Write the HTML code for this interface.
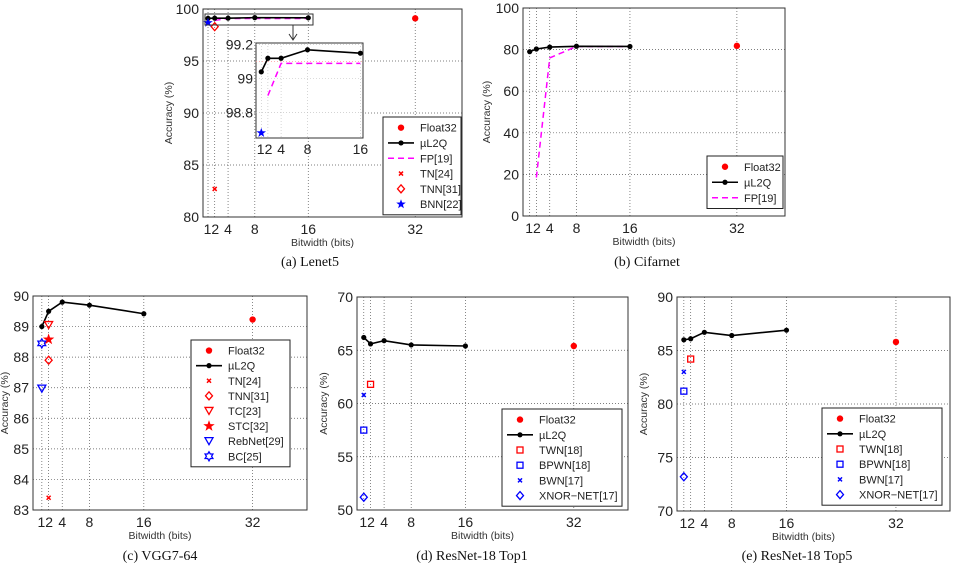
<!DOCTYPE html>
<html><head><meta charset="utf-8"><style>
html,body{margin:0;padding:0;background:#fff;}
svg{display:block;font-family:"Liberation Sans",sans-serif;}
.cap{font-family:"Liberation Serif",serif;font-size:14px;}
</style></head><body>
<svg id="fig" width="960" height="570" viewBox="0 0 960 570"></svg>
<script>
// ---- data ----
const bitsMain = [1, 2, 4, 8, 16];
const bitsTicks = [1, 2, 4, 8, 16, 32];
const tickLabels = ["1", "2", "4", "8", "16", "32"];
// (a) Lenet5
const aL2Q = [99.1, 99.12, 99.12, 99.17, 99.15];
const aFPbits = [2, 4, 8, 16];
const aFP = [98.9, 99.09, 99.09, 99.09];
const aFloat = 99.1;
const aTN = 82.7, aTNN = 98.3, aBNN = 98.68;
const aInsetL2Q = [99.04, 99.12, 99.12, 99.17, 99.15];
const aInsetFP = [98.9, 99.09, 99.09, 99.09];
const aYTicks = [80, 85, 90, 95, 100];
const aInsetYTicks = [98.8, 99, 99.2];
const aInsetYLabels = ["98.8", "99", "99.2"];
// (b) Cifarnet
const bL2Q = [79, 80.3, 81.2, 81.6, 81.5];
const bFPbits = [2, 4, 8, 16];
const bFP = [18.5, 76, 81.5, 81.5];
const bFloat = 81.8;
const bYTicks = [0, 20, 40, 60, 80, 100];
// (c) VGG7-64
const cL2Q = [89.0, 89.5, 89.8, 89.7, 89.42];
const cFloat = 89.23;
const cTN = 83.4, cTNN = 87.9, cTC = 89.05, cSTC = 88.58, cReb = 86.97, cBC = 88.45;
const cYTicks = [83, 84, 85, 86, 87, 88, 89, 90];
// (d) ResNet-18 Top1
const dL2Q = [66.2, 65.6, 65.9, 65.5, 65.4];
const dFloat = 65.4;
const dTWN = 61.8, dBPWN = 57.5, dBWN = 60.8, dXNOR = 51.2;
const dYTicks = [50, 55, 60, 65, 70];
// (e) ResNet-18 Top5
const eL2Q = [86.0, 86.1, 86.7, 86.4, 86.9];
const eFloat = 85.8;
const eTWN = 84.2, eBPWN = 81.2, eBWN = 83.0, eXNOR = 73.2;
const eYTicks = [70, 75, 80, 85, 90];

const NS = "http://www.w3.org/2000/svg";
const svg = document.getElementById('fig');
function el(tag, attrs, parent, txt) {
  const e = document.createElementNS(NS, tag);
  for (const k in attrs) e.setAttribute(k, attrs[k]);
  if (txt !== undefined) e.textContent = txt;
  (parent || svg).appendChild(e);
  return e;
}
const RED = "#ff0000", BLUE = "#0000ff", MAG = "#ff00ff";

function starPts(cx, cy, r1, r2, n) {
  let p = [];
  for (let i = 0; i < 2 * n; i++) {
    const a = -Math.PI / 2 + i * Math.PI / n;
    const r = i % 2 ? r2 : r1;
    p.push((cx + r * Math.cos(a)).toFixed(1) + "," + (cy + r * Math.sin(a)).toFixed(1));
  }
  return p.join(" ");
}
function marker(g, type, x, y, name) {
  let m;
  switch (type) {
    case "dot": m = el("circle", {cx: x, cy: y, r: 3.2, fill: RED}, g); break;
    case "bdot": m = el("circle", {cx: x, cy: y, r: 2.6, fill: "#000"}, g); break;
    case "xr": case "xb": {
      const c = type == "xr" ? RED : BLUE;
      m = el("path", {d: `M${x-2},${y-2}L${x+2},${y+2}M${x-2},${y+2}L${x+2},${y-2}`, stroke: c, "stroke-width": 1.5}, g); break; }
    case "diar": case "diab": {
      const c = type == "diar" ? RED : BLUE;
      m = el("path", {d: `M${x},${y-4}L${x+3.5},${y}L${x},${y+4}L${x-3.5},${y}Z`, stroke: c, fill: "none", "stroke-width": 1.3}, g); break; }
    case "starb": m = el("polygon", {points: starPts(x, y, 5, 2, 5), fill: BLUE}, g); break;
    case "starr": m = el("polygon", {points: starPts(x, y, 6, 2.4, 5), fill: RED}, g); break;
    case "trir": case "trib": {
      const c = type == "trir" ? RED : BLUE;
      m = el("path", {d: `M${x-4},${y-3.5}L${x+4},${y-3.5}L${x},${y+3.5}Z`, stroke: c, fill: "none", "stroke-width": 1.3}, g); break; }
    case "hexb": m = el("polygon", {points: starPts(x, y, 4.5, 2.6, 6), stroke: BLUE, fill: "none", "stroke-width": 1.3}, g); break;
    case "sqr": case "sqb": {
      const c = type == "sqr" ? RED : BLUE;
      m = el("rect", {x: x - 3, y: y - 3, width: 6, height: 6, stroke: c, fill: "none", "stroke-width": 1.3}, g); break; }
  }
  
  
  return m;
}

function panel(cfg) {
  const g = el("g", {});
  
  
  const {L, R, T, B, x0, x1, y0, y1} = cfg;
  const sx = v => L + (v - x0) / (x1 - x0) * (R - L);
  const sy = v => B - (v - y0) / (y1 - y0) * (B - T);
  cfg.sx = sx; cfg.sy = sy;
  cfg.yTicks.forEach((t, i) => {
    if (i > 0 && i < cfg.yTicks.length - 1) {
      const gl = el("line", {x1: L, x2: R, y1: sy(t), y2: sy(t), stroke: "#555", "stroke-width": 0.7, "stroke-dasharray": "1,2"}, g);
      
      
    }
    const tl = el("text", {x: L - 4, y: sy(t) + 5, "text-anchor": "end", "font-size": 14, fill: "#222"}, g, String(t));
    
    
  });
  bitsTicks.forEach((t, i) => {
    const gl = el("line", {x1: sx(t), x2: sx(t), y1: T, y2: B, stroke: "#555", "stroke-width": 0.7, "stroke-dasharray": "1,2"}, g);
    
    
  });
  const xl = [[1.5, "12"], [4, "4"], [8, "8"], [16, "16"], [32, "32"]];
  xl.forEach(([v, s]) => {
    const tl = el("text", {x: sx(v), y: B + 17, "text-anchor": "middle", "font-size": 14, fill: "#222"}, g, s);
    
    
  });
  const fr = el("rect", {x: L, y: T, width: R - L, height: B - T, fill: "none", stroke: "#333", "stroke-width": 1}, g);
  
  
  const xt = el("text", {x: (L + R) / 2 - 10, y: B + 29, "text-anchor": "middle", "font-size": 10.5, fill: "#333"}, g, "Bitwidth (bits)");
  
  
  const yx = cfg.yTitleX, yy = (T + B) / 2;
  const yt = el("text", {x: yx, y: yy, "text-anchor": "middle", "font-size": 10.5, fill: "#333", transform: `rotate(-90 ${yx} ${yy})`}, g, "Accuracy (%)");
  
  
  const cp = el("text", {x: cfg.capX, y: cfg.capY, "text-anchor": "middle", class: "cap", fill: "#111"}, g, cfg.caption);
  
  
  cfg.g = g;
  return cfg;
}
function l2qLine(p, bits, vals, sxf, syf, g) {
  const pts = bits.map((b, i) => sxf(b) + "," + syf(vals[i])).join(" ");
  const pl = el("polyline", {points: pts, fill: "none", stroke: "#000", "stroke-width": 1.6}, g);
  
  
  bits.forEach((b, i) => marker(g, "bdot", sxf(b), syf(vals[i]), "ul2q-point"));
}
function fpLine(bits, vals, sxf, syf, g) {
  const pts = bits.map((b, i) => sxf(b) + "," + syf(vals[i])).join(" ");
  const pl = el("polyline", {points: pts, fill: "none", stroke: MAG, "stroke-width": 1.5, "stroke-dasharray": "6,4"}, g);
  
  
}
function legend(g, x, y, w, rowH, entries) {
  const lg = el("g", {}, g);
  
  
  el("rect", {x: x, y: y, width: w, height: rowH * entries.length + 6, fill: "#fff", stroke: "#222", "stroke-width": 1}, lg);
  entries.forEach((e, i) => {
    const cy = y + 3 + rowH * (i + 0.5);
    const eg = el("g", {}, lg);
    
    
    if (e.line === "solid") el("line", {x1: x + 5, x2: x + 31, y1: cy, y2: cy, stroke: "#000", "stroke-width": 1.6}, eg);
    if (e.line === "dash") el("line", {x1: x + 5, x2: x + 31, y1: cy, y2: cy, stroke: MAG, "stroke-width": 1.5, "stroke-dasharray": "6,4"}, eg);
    if (e.m) marker(eg, e.m, x + 18, cy, "legend-marker");
    el("text", {x: x + 37, y: cy + 4, "font-size": 11, fill: "#222"}, eg, e.t);
  });
}

// ---- (a) Lenet5 ----
const A = panel({name: "panel-a-lenet5", L: 203, R: 462, T: 9, B: 217, x0: 0.25, x1: 39, y0: 80, y1: 100, yTicks: aYTicks, yTitleX: 172, capX: 310, capY: 266, caption: "(a) Lenet5"});
fpLine(aFPbits, aFP, A.sx, A.sy, A.g);
l2qLine(A, bitsMain, aL2Q, A.sx, A.sy, A.g);
marker(A.g, "dot", A.sx(32), A.sy(aFloat), "float32-point");
marker(A.g, "xr", A.sx(2), A.sy(aTN), "tn-point");
marker(A.g, "diar", A.sx(2), A.sy(aTNN), "tnn-point");
marker(A.g, "starb", A.sx(1), A.sy(aBNN), "bnn-point");
const zr = el("rect", {x: 205, y: 14, width: 108, height: 11, fill: "none", stroke: "#333", "stroke-width": 1}, A.g);


const ar = el("path", {d: "M293,25L293,39M289,34L293,40L297,34", fill: "none", stroke: "#333", "stroke-width": 1}, A.g);


const ig = el("g", {}, A.g);


const iL = 256, iR = 363, iT = 43, iB = 138;
const isx = v => iL + (v - 0.2) / (16.4 - 0.2) * (iR - iL);
const isy = v => iB - (v - 98.65) / (99.21 - 98.65) * (iB - iT);
el("rect", {x: iL, y: iT, width: iR - iL, height: iB - iT, fill: "#fff", stroke: "#333", "stroke-width": 1}, ig);
aInsetYTicks.forEach(t => el("line", {x1: iL, x2: iR, y1: isy(t), y2: isy(t), stroke: "#bbb", "stroke-width": 0.6, "stroke-dasharray": "1,2"}, ig));
bitsMain.forEach(t => el("line", {x1: isx(t), x2: isx(t), y1: iT, y2: iB, stroke: "#bbb", "stroke-width": 0.6, "stroke-dasharray": "1,2"}, ig));
el("line", {x1: iL, x2: iR, y1: isy(aFloat), y2: isy(aFloat), stroke: "#f99", "stroke-width": 0.8, "stroke-dasharray": "1,2"}, ig);
aInsetYTicks.forEach((t, i) => el("text", {x: iL - 3, y: isy(t) + 5, "text-anchor": "end", "font-size": 14, fill: "#222"}, ig, aInsetYLabels[i]));
[[1.5, "12"], [4, "4"], [8, "8"], [16, "16"]].forEach(([v, s]) => el("text", {x: isx(v), y: iB + 16, "text-anchor": "middle", "font-size": 14, fill: "#222"}, ig, s));
fpLine(aFPbits, aInsetFP, isx, isy, ig);
l2qLine(null, bitsMain, aInsetL2Q, isx, isy, ig);
marker(ig, "starb", isx(1), isy(aBNN), "inset-bnn-point");
legend(A.g, 383, 117, 78, 15.3, [
  {m: "dot", t: "Float32"}, {m: "bdot", line: "solid", t: "µL2Q"}, {line: "dash", t: "FP[19]"},
  {m: "xr", t: "TN[24]"}, {m: "diar", t: "TNN[31]"}, {m: "starb", t: "BNN[22]"}]);

// ---- (b) Cifarnet ----
const Bp = panel({name: "panel-b-cifarnet", L: 523, R: 785, T: 8, B: 216, x0: 0, x1: 39.2, y0: 0, y1: 100, yTicks: bYTicks, yTitleX: 490, capX: 647, capY: 266, caption: "(b) Cifarnet"});
fpLine(bFPbits, bFP, Bp.sx, Bp.sy, Bp.g);
l2qLine(Bp, bitsMain, bL2Q, Bp.sx, Bp.sy, Bp.g);
marker(Bp.g, "dot", Bp.sx(32), Bp.sy(bFloat), "float32-point");
legend(Bp.g, 707, 156, 76, 15.5, [
  {m: "dot", t: "Float32"}, {m: "bdot", line: "solid", t: "µL2Q"}, {line: "dash", t: "FP[19]"}]);

// ---- (c) VGG7-64 ----
const C = panel({name: "panel-c-vgg7-64", L: 33, R: 307, T: 296, B: 510, x0: -0.3, x1: 40, y0: 83, y1: 90, yTicks: cYTicks, yTitleX: 8, capX: 160, capY: 560, caption: "(c) VGG7-64"});
l2qLine(C, bitsMain, cL2Q, C.sx, C.sy, C.g);
marker(C.g, "dot", C.sx(32), C.sy(cFloat), "float32-point");
marker(C.g, "xr", C.sx(2), C.sy(cTN), "tn-point");
marker(C.g, "diar", C.sx(2), C.sy(cTNN), "tnn-point");
marker(C.g, "trir", C.sx(2), C.sy(cTC), "tc-point");
marker(C.g, "starr", C.sx(2), C.sy(cSTC), "stc-point");
marker(C.g, "trib", C.sx(1), C.sy(cReb), "rebnet-point");
marker(C.g, "hexb", C.sx(1), C.sy(cBC), "bc-point");
legend(C.g, 191, 340, 99, 15.1, [
  {m: "dot", t: "Float32"}, {m: "bdot", line: "solid", t: "µL2Q"}, {m: "xr", t: "TN[24]"},
  {m: "diar", t: "TNN[31]"}, {m: "trir", t: "TC[23]"}, {m: "starr", t: "STC[32]"},
  {m: "trib", t: "RebNet[29]"}, {m: "hexb", t: "BC[25]"}]);

// ---- (d) ResNet-18 Top1 ----
const D = panel({name: "panel-d-resnet18-top1", L: 357, R: 628, T: 297, B: 510, x0: 0, x1: 40, y0: 50, y1: 70, yTicks: dYTicks, yTitleX: 327, capX: 472, capY: 560, caption: "(d) ResNet-18 Top1"});
l2qLine(D, bitsMain, dL2Q, D.sx, D.sy, D.g);
marker(D.g, "dot", D.sx(32), D.sy(dFloat), "float32-point");
marker(D.g, "sqr", D.sx(2), D.sy(dTWN), "twn-point");
marker(D.g, "sqb", D.sx(1), D.sy(dBPWN), "bpwn-point");
marker(D.g, "xb", D.sx(1), D.sy(dBWN), "bwn-point");
marker(D.g, "diab", D.sx(1), D.sy(dXNOR), "xnor-point");
legend(D.g, 502, 409, 120, 15.2, [
  {m: "dot", t: "Float32"}, {m: "bdot", line: "solid", t: "µL2Q"}, {m: "sqr", t: "TWN[18]"},
  {m: "sqb", t: "BPWN[18]"}, {m: "xb", t: "BWN[17]"}, {m: "diab", t: "XNOR−NET[17]"}]);

// ---- (e) ResNet-18 Top5 ----
const E = panel({name: "panel-e-resnet18-top5", L: 677, R: 950, T: 297, B: 511, x0: 0, x1: 39.9, y0: 70, y1: 90, yTicks: eYTicks, yTitleX: 647, capX: 797, capY: 560, caption: "(e) ResNet-18 Top5"});
l2qLine(E, bitsMain, eL2Q, E.sx, E.sy, E.g);
marker(E.g, "dot", E.sx(32), E.sy(eFloat), "float32-point");
marker(E.g, "sqr", E.sx(2), E.sy(eTWN), "twn-point");
marker(E.g, "sqb", E.sx(1), E.sy(eBPWN), "bpwn-point");
marker(E.g, "xb", E.sx(1), E.sy(eBWN), "bwn-point");
marker(E.g, "diab", E.sx(1), E.sy(eXNOR), "xnor-point");
legend(E.g, 822, 408, 120, 15.2, [
  {m: "dot", t: "Float32"}, {m: "bdot", line: "solid", t: "µL2Q"}, {m: "sqr", t: "TWN[18]"},
  {m: "sqb", t: "BPWN[18]"}, {m: "xb", t: "BWN[17]"}, {m: "diab", t: "XNOR−NET[17]"}]);
</script>
</body></html>
